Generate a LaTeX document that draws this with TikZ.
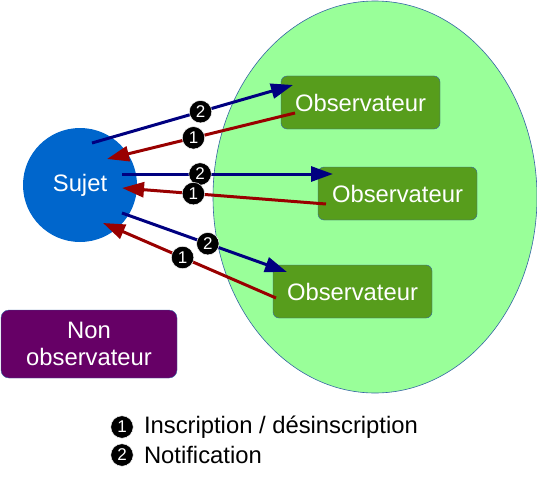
\documentclass[tikz,border=0pt]{standalone}
\usepackage{fontspec}
\setmainfont{Liberation Sans}
\usetikzlibrary{arrows.meta,positioning}
\definecolor{vertclair}{HTML}{99FF99}
\definecolor{vertobs}{HTML}{579D1C}
\definecolor{bordure}{HTML}{3465A4}
\definecolor{bleusujet}{HTML}{0066CC}
\definecolor{violet}{HTML}{660066}
\definecolor{marine}{HTML}{000080}
\definecolor{rouge}{HTML}{990000}

\begin{document}
\begin{tikzpicture}[x=1pt,y=-1pt,font=\fontsize{23.8}{27}\selectfont,
  obs/.style={draw=bordure,fill=vertobs,rounded corners=6pt,minimum width=159pt,minimum height=53pt,text=white,inner sep=0pt},
  notif/.style={draw=marine,line width=3pt,-{Triangle[length=22pt,width=15pt]}},
  inscr/.style={draw=rouge,line width=3pt,-{Triangle[length=22pt,width=15pt]}},
  badge/.style={circle,fill=black,draw=white,line width=0.5pt,text=white,inner sep=0pt,minimum size=22.5pt,font=\fontsize{17}{17}\selectfont}]
  \useasboundingbox (0,0) rectangle (537,476);
  \draw[bordure,fill=vertclair,line width=0.6pt] (375,197) ellipse [x radius=162,y radius=196];
  \node[circle,fill=bleusujet,minimum size=114pt,text=white] (sujet) at (80,185) {Sujet};
  \node[obs] (obs1) at (360.5,102.5) {Observateur};
  \node[obs] (obs2) at (397.5,193.5) {Observateur};
  \node[obs] (obs3) at (352.5,291.5) {Observateur};
  \node[draw=bordure,fill=violet,rounded corners=8pt,minimum width=176pt,minimum height=68pt,text=white,align=center,inner sep=0pt] (nonobs) at (89,344) {Non\\observateur};
  \coordinate (s1) at (92,143);
  \coordinate (s2) at (122,174);
  \coordinate (s3) at (122,213);
  \coordinate (t1) at (107,159);
  \coordinate (t2) at (122,188);
  \coordinate (t3) at (103,223);
  \coordinate (o1a) at (293,85);
  \coordinate (o1b) at (295,113);
  \coordinate (o2a) at (333,174);
  \coordinate (o2b) at (326,204);
  \coordinate (o3a) at (287,272);
  \coordinate (o3b) at (276,298);
  \draw[notif] (s1) -- (o1a) node[badge,pos=0.54] (b21) {2};
  \draw[inscr] (o1b) -- (t1) node[badge,pos=0.54] (b11) {1};
  \draw[notif] (s2) -- (o2a) node[badge,pos=0.37] (b22) {2};
  \draw[inscr] (o2b) -- (t2) node[badge,pos=0.65] (b12) {1};
  \draw[notif] (s3) -- (o3a) node[badge,pos=0.52] (b23) {2};
  \draw[inscr] (o3b) -- (t3) node[badge,pos=0.54] (b13) {1};
  \node[badge] (leg1) at (122,427) {1};
  \node[badge] (leg2) at (122,455) {2};
  \node[right=7pt of leg1] (legtxt1) {Inscription / désinscription};
  \node[right=7pt of leg2] (legtxt2) {Notification};
\end{tikzpicture}
\end{document}
